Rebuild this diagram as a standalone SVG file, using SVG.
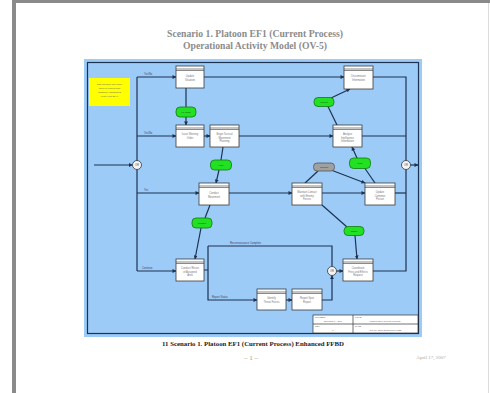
<svg xmlns="http://www.w3.org/2000/svg" width="490" height="393" viewBox="0 0 490 393">
<style>
.node rect.b{fill:#fff;stroke:#3a3a3a;stroke-width:0.8}
.node line{stroke:#3a3a3a;stroke-width:0.6}
.node text{font-family:"Liberation Sans",Arial,sans-serif;font-size:2.6px;fill:#777;text-anchor:middle}
.item rect{fill:#22e022;stroke:#137a13;stroke-width:0.8}
.gitem rect{fill:#a0a0a0;stroke:#555;stroke-width:0.8}
.item text,.gitem text{font-family:"Liberation Sans",Arial,sans-serif;font-size:2.4px;fill:#135013;text-anchor:middle}
.junc circle{fill:#f4f4f4;stroke:#333;stroke-width:0.8}
.junc text{font-family:"Liberation Sans",Arial,sans-serif;font-size:2.6px;fill:#555;text-anchor:middle}
#connectors path,#connectors line{stroke:#1c3250;stroke-width:1.2;fill:none}
#connectors .a{marker-end:url(#ah)}
.lbl{font-family:"Liberation Sans",Arial,sans-serif;font-size:2.6px;fill:#445}
.title{font-family:"Liberation Serif","Times New Roman",serif;font-weight:bold;font-size:9.5px;fill:#8c8c8c;text-anchor:middle}
.small{font-family:"Liberation Sans",Arial,sans-serif;font-size:2.4px;fill:#666}
</style>
<defs>
<marker id="ah" viewBox="0 0 6 6" refX="5.5" refY="3" markerWidth="3.2" markerHeight="3.2" orient="auto" markerUnits="strokeWidth">
<path d="M0,0 L6,3 L0,6 z" fill="#1c3250"/>
</marker>
</defs>
<rect x="0" y="0" width="490" height="393" fill="#fff"/>
<rect x="13" y="0" width="477" height="3" fill="#8a8a8a"/>
<rect x="12" y="0" width="4" height="393" fill="#8a8a8a"/>
<line x1="488.5" y1="3" x2="488.5" y2="393" stroke="#dcdcdc" stroke-width="1"/>

<text class="title" x="255" y="37" textLength="176" lengthAdjust="spacingAndGlyphs">Scenario 1. Platoon EF1 (Current Process)</text>
<text class="title" x="255" y="49" textLength="144" lengthAdjust="spacingAndGlyphs">Operational Activity Model (OV-5)</text>

<rect x="84" y="59" width="338" height="278" fill="#9ccbf8"/>
<rect x="87.5" y="62.5" width="331" height="271" fill="none" stroke="#1c3250" stroke-width="1.2"/>

<g id="note">
<rect x="89" y="78" width="41" height="28" fill="#ffff00"/>
<text class="small" x="109.5" y="85" text-anchor="middle">This scenario can either</text>
<text class="small" x="109.5" y="89" text-anchor="middle">occur in current time</text>
<text class="small" x="109.5" y="93" text-anchor="middle">(baseline) capabilities</text>
<text class="small" x="109.5" y="97" text-anchor="middle">in the year 20XX</text>
</g>

<g id="connectors">
<line x1="94" y1="165" x2="132.5" y2="165" class="a"/>
<line x1="137" y1="77" x2="137" y2="271"/>
<line x1="137" y1="77" x2="176" y2="77" class="a"/>
<line x1="137" y1="136" x2="176" y2="136" class="a"/>
<line x1="137" y1="193" x2="199" y2="193" class="a"/>
<line x1="137" y1="271" x2="176" y2="271" class="a"/>
<line x1="186" y1="88" x2="186" y2="107"/>
<line x1="186" y1="117" x2="186" y2="125" class="a"/>
<line x1="204" y1="136" x2="210" y2="136" class="a"/>
<line x1="223" y1="147" x2="221" y2="160"/>
<line x1="219" y1="170" x2="216" y2="183" class="a"/>
<line x1="210" y1="205" x2="205" y2="218"/>
<line x1="201" y1="228" x2="195" y2="259" class="a"/>
<path d="M204,270 H208 M208,246 V300 H257" class="a"/>
<path d="M208,246 H332 V266.5"/>
<line x1="286" y1="300" x2="292" y2="300" class="a"/>
<path d="M322,300 H332 V275.5" class="a"/>
<line x1="336.5" y1="271" x2="343" y2="271" class="a"/>
<path d="M373,271 H406 V77 H373"/>
<line x1="410.5" y1="165" x2="418" y2="165" class="a"/>
<line x1="204" y1="77" x2="344" y2="77" class="a"/>
<line x1="239" y1="136" x2="333" y2="136" class="a"/>
<line x1="362" y1="136" x2="406" y2="136"/>
<line x1="229" y1="193" x2="292" y2="193" class="a"/>
<line x1="322" y1="193" x2="365" y2="193" class="a"/>
<line x1="395" y1="193" x2="406" y2="193"/>
<line x1="337" y1="125" x2="328" y2="106.5"/>
<line x1="331" y1="98" x2="350" y2="89" class="a"/>
<line x1="375" y1="183" x2="365" y2="168.5"/>
<line x1="357" y1="158" x2="352" y2="147" class="a"/>
<line x1="305" y1="183" x2="318" y2="171"/>
<line x1="331" y1="170" x2="365" y2="183" class="a"/>
<line x1="322" y1="205" x2="347" y2="227"/>
<line x1="355" y1="235.5" x2="357" y2="259" class="a"/>
<text class="lbl" x="144" y="75">Yes/No</text>
<text class="lbl" x="144" y="134">Yes/No</text>
<text class="lbl" x="144" y="191">Yes</text>
<text class="lbl" x="142" y="269">Continue</text>
<text class="lbl" x="230" y="244">Reconnaissance Complete</text>
<text class="lbl" x="212" y="298">Report Status</text>
</g>

<g id="n1" class="node"><rect class="b" x="176" y="66" width="28" height="22"/><line x1="176" y1="69" x2="204" y2="69"/><line x1="176" y1="70.5" x2="204" y2="70.5"/><text x="190" y="77">Update</text><text x="190" y="80.5">Situation</text></g>
<g id="n2" class="node"><rect class="b" x="176" y="125" width="28" height="22"/><line x1="176" y1="128" x2="204" y2="128"/><line x1="176" y1="129.5" x2="204" y2="129.5"/><text x="190" y="135">Issue Warning</text><text x="190" y="138.5">Order</text></g>
<g id="n3" class="node"><rect class="b" x="210" y="125" width="29" height="22"/><line x1="210" y1="128" x2="239" y2="128"/><line x1="210" y1="129.5" x2="239" y2="129.5"/><text x="224.5" y="135">Begin Tactical</text><text x="224.5" y="138.5">Movement</text><text x="224.5" y="142">Planning</text></g>
<g id="n4" class="node"><rect class="b" x="199" y="183" width="30" height="22"/><line x1="199" y1="186" x2="229" y2="186"/><line x1="199" y1="187.5" x2="229" y2="187.5"/><text x="214" y="194">Conduct</text><text x="214" y="197.5">Movement</text></g>
<g id="n5" class="node"><rect class="b" x="176" y="259" width="28" height="22"/><line x1="176" y1="262" x2="204" y2="262"/><line x1="176" y1="263.5" x2="204" y2="263.5"/><text x="190" y="269">Conduct Recon</text><text x="190" y="272.5">of Assigned</text><text x="190" y="276">Area</text></g>
<g id="n6" class="node"><rect class="b" x="257" y="289" width="29" height="21"/><line x1="257" y1="292" x2="286" y2="292"/><line x1="257" y1="293.5" x2="286" y2="293.5"/><text x="271.5" y="299">Identify</text><text x="271.5" y="302.5">Threat Forces</text></g>
<g id="n7" class="node"><rect class="b" x="292" y="289" width="30" height="21"/><line x1="292" y1="292" x2="322" y2="292"/><line x1="292" y1="293.5" x2="322" y2="293.5"/><text x="307" y="299">Report Spot</text><text x="307" y="302.5">Report</text></g>
<g id="n8" class="node"><rect class="b" x="343" y="259" width="30" height="22"/><line x1="343" y1="262" x2="373" y2="262"/><line x1="343" y1="263.5" x2="373" y2="263.5"/><text x="358" y="269">Coordinate</text><text x="358" y="272.5">Fires and Effects</text><text x="358" y="276">Request</text></g>
<g id="n9" class="node"><rect class="b" x="292" y="183" width="30" height="22"/><line x1="292" y1="186" x2="322" y2="186"/><line x1="292" y1="187.5" x2="322" y2="187.5"/><text x="307" y="193">Maintain Contact</text><text x="307" y="196.5">with Enemy</text><text x="307" y="200">Forces</text></g>
<g id="n10" class="node"><rect class="b" x="365" y="183" width="30" height="22"/><line x1="365" y1="186" x2="395" y2="186"/><line x1="365" y1="187.5" x2="395" y2="187.5"/><text x="380" y="193">Update</text><text x="380" y="196.5">Common</text><text x="380" y="200">Picture</text></g>
<g id="n11" class="node"><rect class="b" x="344" y="66" width="29" height="23"/><line x1="344" y1="69" x2="373" y2="69"/><line x1="344" y1="70.5" x2="373" y2="70.5"/><text x="358.5" y="77">Disseminate</text><text x="358.5" y="80.5">Information</text></g>
<g id="n12" class="node"><rect class="b" x="333" y="125" width="29" height="22"/><line x1="333" y1="128" x2="362" y2="128"/><line x1="333" y1="129.5" x2="362" y2="129.5"/><text x="347.5" y="135">Analyze</text><text x="347.5" y="138.5">Intelligence</text><text x="347.5" y="142">Information</text></g>

<g id="i1" class="item"><rect x="176" y="107" width="20" height="10" rx="4"/><text x="186" y="113">WARNO</text></g>
<g id="i2" class="item"><rect x="210.5" y="160" width="21" height="10" rx="4"/><text x="221" y="166">Plan</text></g>
<g id="i3" class="item"><rect x="192" y="218" width="20" height="10" rx="4"/><text x="202" y="224">Position</text></g>
<g id="i4" class="item"><rect x="314" y="97.5" width="20" height="9" rx="4"/><text x="324" y="103">Report</text></g>
<g id="i5" class="item"><rect x="349.5" y="158" width="21" height="10.5" rx="4"/><text x="360" y="164">COP</text></g>
<g id="i6" class="item"><rect x="344" y="226.5" width="20" height="9" rx="4"/><text x="354" y="232">Target</text></g>
<g id="i7" class="gitem"><rect x="313.5" y="163" width="21" height="8" rx="3.5"/><text x="324" y="168">Contact</text></g>

<g id="j1" class="junc"><circle cx="137" cy="165" r="4.5"/><text x="137" y="166">OR</text></g>
<g id="j2" class="junc"><circle cx="406" cy="165" r="4.5"/><text x="406" y="166">OR</text></g>
<g id="j3" class="junc"><circle cx="332" cy="271" r="4.5"/><text x="332" y="272">OR</text></g>

<g id="titleblock">
<rect x="313" y="315" width="105" height="18" fill="#fff" stroke="#333" stroke-width="0.7"/>
<line x1="353" y1="315" x2="353" y2="333" stroke="#333" stroke-width="0.7"/>
<line x1="313" y1="324" x2="418" y2="324" stroke="#333" stroke-width="0.7"/>
<text class="small" x="315" y="318">NUMBER</text>
<text class="small" x="333" y="321.5" text-anchor="middle">Scenario 1 - EF1</text>
<text class="small" x="355" y="318">TITLE</text>
<text class="small" x="385" y="321.5" text-anchor="middle">Platoon EF1 Current Process</text>
<text class="small" x="315" y="327">REV</text>
<text class="small" x="333" y="331" text-anchor="middle">0</text>
<text class="small" x="355" y="327">DATE</text>
<text class="small" x="385" y="331" text-anchor="middle">April 17, 2007  Enhanced FFBD</text>
</g>

<text x="253" y="346" font-family="'Liberation Serif','Times New Roman',serif" font-weight="bold" font-size="7px" fill="#222" text-anchor="middle" textLength="182" lengthAdjust="spacingAndGlyphs">11 Scenario 1. Platoon EF1 (Current Process) Enhanced FFBD</text>
<text x="251" y="360" font-family="'Liberation Serif','Times New Roman',serif" font-size="7px" fill="#999" text-anchor="middle">– 1 –</text>
<text x="431" y="359" font-family="'Liberation Serif','Times New Roman',serif" font-size="5px" fill="#aaa" text-anchor="middle">April 17, 2007</text>
</svg>
